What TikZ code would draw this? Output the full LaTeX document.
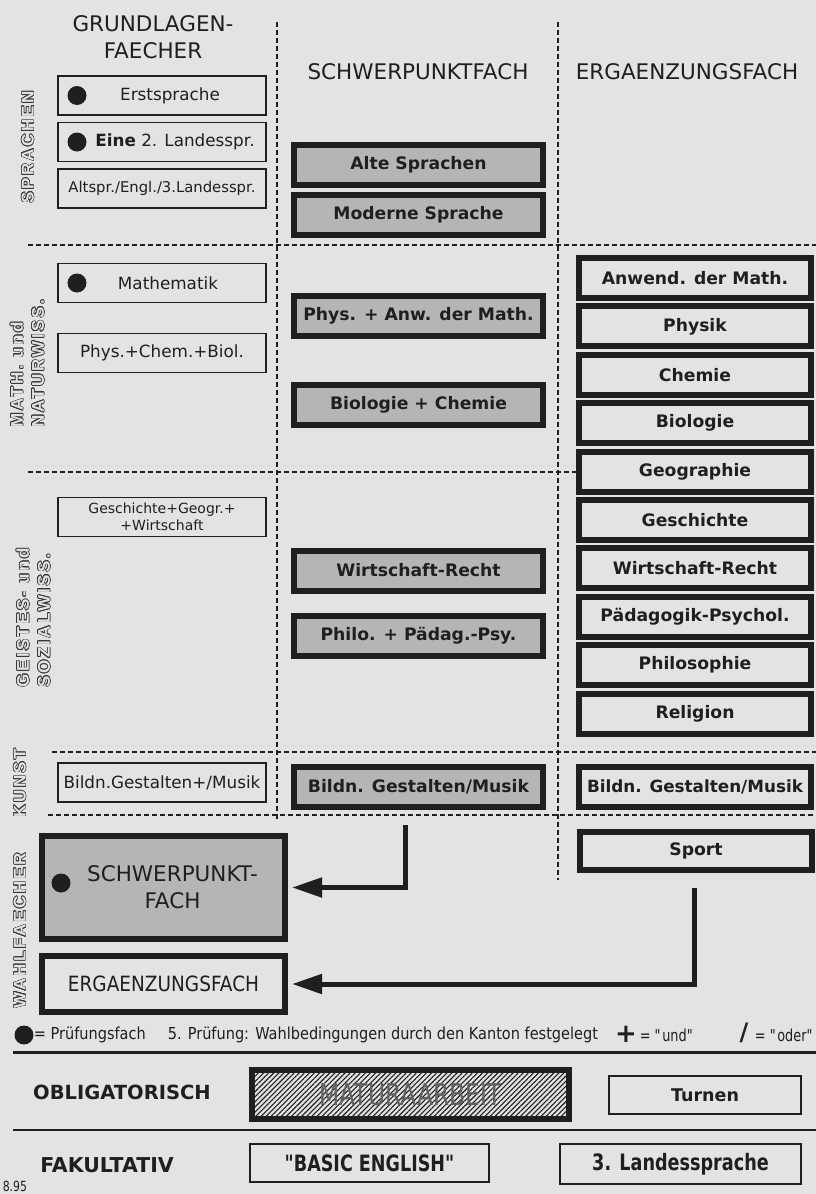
\documentclass[tikz,border=0pt]{standalone}
\usepackage{fontspec}
\setmainfont{DejaVu Sans}
\newfontfamily\narrowfont[FakeStretch=0.78]{DejaVu Sans}
\newfontfamily\condfont[FakeStretch=0.88]{DejaVu Sans}
\newfontfamily\sidefont[LetterSpace=14]{Liberation Sans}
\usepackage{contour}
\contourlength{0.6pt}
\usetikzlibrary{patterns,patterns.meta,arrows.meta}
\definecolor{paper}{gray}{0.89}
\definecolor{ink}{gray}{0.12}
\definecolor{shade}{gray}{0.71}

\begin{document}
\begin{tikzpicture}[x=1pt, y=-1pt, line width=1.6pt,
    gbox/.style={draw=ink, line width=1.6pt, minimum width=208, minimum height=39,
      inner sep=0pt, text=ink, font=\fontsize{16.8}{19}\selectfont},
    spbox/.style={draw=ink, line width=6pt, fill=shade, minimum width=249, minimum height=40,
      inner sep=0pt, text=ink, font=\bfseries\fontsize{17.2}{20}\selectfont},
    egbox/.style={draw=ink, line width=6pt, minimum width=232, minimum height=40,
      inner sep=0pt, text=ink, font=\bfseries\fontsize{17.2}{20}\selectfont},
    thinbox/.style={draw=ink, line width=1.8pt, inner sep=0pt, text=ink},
    pdot/.style={circle, fill=ink, inner sep=0pt, minimum size=19},
    head/.style={text=ink, align=center, font=\fontsize{21.5}{27}\selectfont},
    side/.style={rotate=90, anchor=west, align=left, inner sep=0pt, text=paper,
      font=\sidefont\bfseries\fontsize{17}{21}\selectfont},
    legend/.style={text=ink, inner sep=0pt, font=\condfont\fontsize{16.5}{20}\selectfont},
    sep/.style={draw=ink, line width=1.8pt, dash pattern=on 5pt off 3pt},
    arr/.style={draw=ink, line width=5pt, shorten >=4pt, -{Triangle[length=30pt,width=19pt]}}]

    % paper
    \fill[paper] (0,0) rectangle (816,1194);
    \useasboundingbox (0,0) rectangle (816,1194);

    % draw column headers
    \node[head] (hgrund) at (153,37) {GRUNDLAGEN-\\FAECHER};
    \node[head] (hschwer) at (418,72) {SCHWERPUNKTFACH};
    \node[head] (hergae) at (687,72) {ERGAENZUNGSFACH};

    % draw dashed separators
    \draw[sep] (277,22) -- (277,820);
    \draw[sep] (558,22) -- (558,880);
    \draw[sep] (28,245) -- (816,245);
    \draw[sep] (28,472) -- (576,472);
    \draw[sep] (52,752) -- (816,752);
    \draw[sep] (48,815) -- (816,815);

    % draw side labels
    \node[side] (lspr) at (28,204) {\contour{black!78}{SPRACHEN}};
    \node[side] (lmath) at (27.5,428) {\contour{black!78}{MATH. und}\\\contour{black!78}{NATURWISS.}};
    \node[side] (lgeist) at (33.5,688) {\contour{black!78}{GEISTES- und}\\\contour{black!78}{SOZIALWISS.}};
    \node[side] (lkunst) at (20,818) {\contour{black!78}{KUNST}};
    \node[side] (lwahl) at (20,1009) {\contour{black!78}{WAHLFAECHER}};

    % draw grundlagen boxes
    \node[gbox] (erst) at (162,95.5) {\hspace*{16pt}Erstsprache};
    \node[gbox] (eine) at (162,142) {\hspace*{26pt}\textbf{Eine} 2. Landesspr.};
    \node[gbox, font=\fontsize{14.8}{17}\selectfont] (alt) at (162,188.5) {Altspr./Engl./3.Landesspr.};
    \node[gbox] (mathe) at (162,283) {\hspace*{12pt}Mathematik};
    \node[gbox] (pcb) at (162,353) {Phys.+Chem.+Biol.};
    \node[gbox, align=center, font=\fontsize{14}{17}\selectfont] (ggw) at (162,517) {Geschichte+Geogr.+\\+Wirtschaft};
    \node[gbox] (bgm) at (162,782.5) {Bildn.Gestalten+/Musik};
    \node[pdot] (derst) at (77,95.5) {};
    \node[pdot] (deine) at (77,142) {};
    \node[pdot] (dmathe) at (77,283) {};

    % draw schwerpunkt boxes
    \node[spbox] (salt) at (418.5,164.5) {Alte Sprachen};
    \node[spbox] (smod) at (418.5,215) {Moderne Sprache};
    \node[spbox] (sphys) at (418.5,315.5) {Phys. + Anw. der Math.};
    \node[spbox] (sbio) at (418.5,404.5) {Biologie + Chemie};
    \node[spbox] (swr) at (418.5,570.5) {Wirtschaft-Recht};
    \node[spbox] (sphil) at (418.5,636) {Philo. + Pädag.-Psy.};
    \node[spbox] (sbgm) at (418.5,786.5) {Bildn. Gestalten/Musik};

    % draw ergaenzung boxes
    \node[egbox] (eanw) at (695,278) {Anwend. der Math.};
    \node[egbox] (ephy) at (695,326.4) {Physik};
    \node[egbox] (eche) at (695,374.8) {Chemie};
    \node[egbox] (ebio) at (695,423.2) {Biologie};
    \node[egbox] (egeo) at (695,471.6) {Geographie};
    \node[egbox] (eges) at (695,520) {Geschichte};
    \node[egbox] (ewr) at (695,568.4) {Wirtschaft-Recht};
    \node[egbox] (epp) at (695,616.8) {Pädagogik-Psychol.};
    \node[egbox] (ephil) at (695,665.2) {Philosophie};
    \node[egbox] (erel) at (695,713.6) {Religion};
    \node[egbox, font=\bfseries\fontsize{16.8}{20}\selectfont] (ebgm) at (695,786.5) {Bildn. Gestalten/Musik};
    \node[egbox, minimum height=38] (esport) at (696,851) {Sport};

    % draw wahlfaecher
    \node[spbox, minimum width=243, minimum height=103, align=center,
      font=\fontsize{21.5}{27}\selectfont] (wsp) at (163.5,887.5) {\hspace*{18pt}SCHWERPUNKT-\\\hspace*{18pt}FACH};
    \node[pdot] (dwsp) at (61,883) {};
    \node[egbox, minimum width=243, minimum height=56,
      font=\condfont\fontsize{21}{24}\selectfont] (weg) at (163.5,984) {ERGAENZUNGSFACH};
    \coordinate (swa) at (405,825);
    \coordinate (spa) at (694,888);
    \draw[arr] (swa) |- (wsp.east);
    \draw[arr] (spa) |- (weg.east);

    % draw legend
    \node[pdot, minimum size=19] (dleg) at (24,1035) {};
    \node[legend, anchor=west] (tleg) at (33,1035) {= Prüfungsfach};
    \node[legend, anchor=west] (tpruef) at (167,1035) {5. Prüfung: Wahlbedingungen durch den Kanton festgelegt};
    \node[text=ink, inner sep=0pt, font=\bfseries\fontsize{26}{26}\selectfont] (plus) at (626,1034) {+};
    \node[legend, anchor=west, font=\narrowfont\fontsize{16.5}{20}\selectfont] (tund) at (639,1035) {= \textquotedbl und\textquotedbl};
    \node[text=ink, inner sep=0pt, font=\bfseries\fontsize{24}{24}\selectfont] (slash) at (744,1033) {/};
    \node[legend, anchor=east, font=\narrowfont\fontsize{16.5}{20}\selectfont] (toder) at (815,1035) {= \textquotedbl oder\textquotedbl};

    % draw obligatorisch / fakultativ
    \draw[ink, line width=3pt] (13,1052) -- (816,1052);
    \draw[ink, line width=2pt] (13,1130) -- (816,1130);
    \node[text=ink, font=\bfseries\fontsize{19.5}{22}\selectfont] (lobl) at (122,1092) {OBLIGATORISCH};
    \node[text=ink, font=\bfseries\fontsize{20.5}{22}\selectfont] (lfak) at (107,1165) {FAKULTATIV};
    \node[draw=ink, line width=6pt, pattern={Lines[angle=45,distance=3.6pt,line width=1.1pt]},
      pattern color=ink, minimum width=317, minimum height=49, inner sep=0pt,
      text=black!62, font=\narrowfont\fontsize{30}{32}\selectfont] (matura) at (410.5,1094.5) {MATURAARBEIT};
    \node[thinbox, minimum width=192, minimum height=38,
      font=\bfseries\fontsize{17.5}{20}\selectfont] (turnen) at (705,1095) {Turnen};
    \node[thinbox, minimum width=239, minimum height=38,
      font=\narrowfont\bfseries\fontsize{22.5}{24}\selectfont] (basic) at (369.5,1163) {"BASIC ENGLISH"};
    \node[thinbox, minimum width=241, minimum height=40,
      font=\narrowfont\bfseries\fontsize{22.6}{24}\selectfont] (land) at (680.5,1164) {3. Landessprache};
    \node[text=ink, inner sep=0pt, anchor=west, font=\narrowfont\fontsize{14}{16}\selectfont] (date) at (2,1186) {8.95};

\end{tikzpicture}
\end{document}
